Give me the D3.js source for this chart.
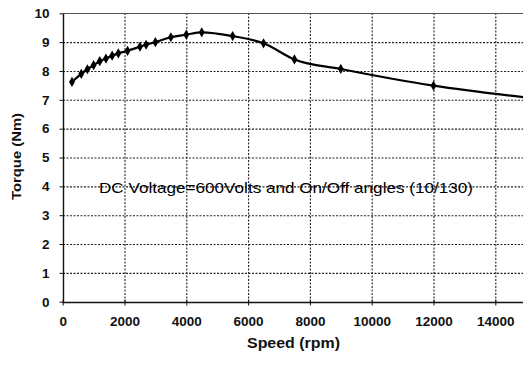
<!DOCTYPE html>
<html>
<head>
<meta charset="utf-8">
<script src="https://cdn.jsdelivr.net/npm/d3@7"></script>
<style>
  html, body { margin: 0; padding: 0; background: #fff; overflow: hidden; }
  svg { display: block; font-family: "Liberation Sans", Arial, sans-serif; }
</style>
</head>
<body>
<svg id="chart" width="523" height="365"></svg>
<script>
// Measured torque vs speed
const speed = [300, 600, 800, 1000, 1200, 1400, 1600, 1800, 2100, 2500, 2700, 3000,
               3500, 4000, 4500, 5500, 6500, 7500, 9000, 12000, 15000];
const torque = [7.62, 7.9, 8.06, 8.2, 8.34, 8.43, 8.53, 8.61, 8.7, 8.84, 8.91, 9.0,
                9.17, 9.26, 9.34, 9.21, 8.96, 8.4, 8.07, 7.49, 7.08];

const xTicks = [0, 2000, 4000, 6000, 8000, 10000, 12000, 14000];
const yTicks = [0, 1, 2, 3, 4, 5, 6, 7, 8, 9, 10];

const svg = d3.select("#chart");
const x = d3.scaleLinear().domain([0, 15000]).range([62.7, 526.2]);
const y = d3.scaleLinear().domain([0, 10]).range([301.7, 13.3]);

// dotted grid drawn as axis ticks spanning the plot
const gridX = svg.append("g")
  .attr("transform", `translate(0,${Math.round(y(10))})`)
  .call(d3.axisBottom(x).tickValues(xTicks.slice(1)).tickSize(y(0) - y(10)).tickFormat(""));
const gridY = svg.append("g")
  .attr("transform", `translate(${Math.round(x(0))},0)`)
  .call(d3.axisRight(y).tickValues(yTicks.slice(1, -1)).tickSize(523 - x(0)).tickFormat(""));
[gridX, gridY].forEach(g => {
  g.select(".domain").remove();
  g.selectAll(".tick line").attr("stroke", "#222").attr("stroke-width", 1.1)
    .attr("stroke-dasharray", "2,1.5");
});

// axes
const xAxis = svg.append("g")
  .attr("transform", `translate(0,${Math.round(y(0)) + 0.5})`)
  .call(d3.axisBottom(x).tickValues(xTicks).tickSize(3).tickPadding(11).tickFormat(d3.format("d")));
const yAxis = svg.append("g")
  .attr("transform", `translate(${Math.round(x(0)) + 0.5},0)`)
  .call(d3.axisLeft(y).tickValues(yTicks).tickSize(4).tickPadding(10).tickFormat(d3.format("d")));
[xAxis, yAxis].forEach(a => {
  a.select(".domain").attr("stroke", "#111").attr("stroke-width", 1.4);
  a.selectAll(".tick line").attr("stroke", "#111");
  a.selectAll(".tick text").attr("font-size", 13.5).attr("font-weight", "bold")
    .attr("fill", "#111").attr("font-family", "'Liberation Sans', Arial, sans-serif");
});
xAxis.select(".domain").attr("d", `M${x(0)},0H523`);
yAxis.select(".domain").attr("d", `M0,${y(0)}V${y(10)}`);
xAxis.selectAll(".tick line").attr("y1", -3);

// top frame
svg.append("path").attr("d", `M${x(0)},13.5H523`)
  .attr("stroke", "#555").attr("stroke-width", 1.2).attr("fill", "none");

// curve
const pts = speed.map((s, i) => [s, torque[i]]);
svg.append("path").datum(pts)
  .attr("fill", "none").attr("stroke", "#000").attr("stroke-width", 2.2)
  .attr("d", d3.line().x(d => x(d[0])).y(d => y(d[1])).curve(d3.curveMonotoneX));

// diamond markers
const diamond = d3.symbol().type(d3.symbolDiamond).size(30);
svg.selectAll("path.mk").data(pts).join("path")
  .attr("class", "mk")
  .attr("transform", d => `translate(${x(d[0])},${y(d[1])})`)
  .attr("d", diamond).attr("fill", "#000");

// labels
svg.append("text").attr("x", 247).attr("y", 348)
  .attr("font-size", 14).attr("font-weight", "bold").attr("fill", "#111")
  .attr("textLength", 93).attr("lengthAdjust", "spacingAndGlyphs")
  .text("Speed (rpm)");
svg.append("text").attr("transform", "translate(21,200) rotate(-90)")
  .attr("font-size", 13.5).attr("font-weight", "bold").attr("fill", "#111")
  .attr("textLength", 87).attr("lengthAdjust", "spacingAndGlyphs")
  .text("Torque (Nm)");
svg.append("text").attr("x", 99).attr("y", 193)
  .attr("font-size", 15).attr("fill", "#000").attr("textLength", 374)
  .attr("lengthAdjust", "spacingAndGlyphs")
  .text("DC Voltage=600Volts and On/Off angles (10/130)");
</script>
</body>
</html>
